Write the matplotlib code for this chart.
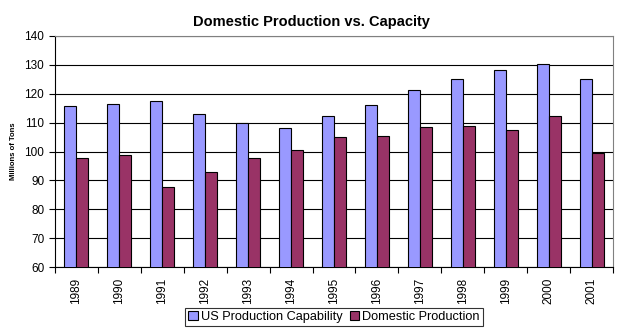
import numpy as np
import matplotlib
matplotlib.use("Agg")
import matplotlib.pyplot as plt

plt.rcParams['font.family'] = ['Liberation Sans', 'DejaVu Sans']

years = ['1989', '1990', '1991', '1992', '1993', '1994', '1995',
         '1996', '1997', '1998', '1999', '2000', '2001']
capability = [115.7, 116.4, 117.4, 112.9, 109.9, 108.1, 112.2,
              116.0, 121.2, 125.0, 128.1, 130.2, 125.0]
production = [97.7, 98.7, 87.6, 92.8, 97.7, 100.4, 105.1,
              105.3, 108.4, 108.8, 107.4, 112.2, 99.4]

fig = plt.figure(figsize=(6.23, 3.33), dpi=100)
ax = fig.add_axes([55/623, 1-267/333, (613-55)/623, (267-36)/333])

x = np.arange(len(years))
w = 0.28
ax.bar(x - w/2, capability, w, color='#9999FF', edgecolor='black', linewidth=0.8,
       label='US Production Capability', zorder=3)
ax.bar(x + w/2, production, w, color='#993366', edgecolor='black', linewidth=0.8,
       label='Domestic Production', zorder=3)

ax.set_xlim(-0.5, len(years) - 0.5)
ax.set_ylim(60, 140)
ax.set_yticks(range(60, 141, 10))
ax.tick_params(axis='y', labelsize=8.5, length=4.3, width=0.8, pad=3.5)
ax.set_xticks(x)
ax.set_xticklabels(years, rotation=90, fontsize=8.5)
ax.tick_params(axis='x', which='major', length=0, pad=8)
ax.set_xticks(np.arange(-0.5, len(years), 1), minor=True)
ax.tick_params(axis='x', which='minor', length=4, width=0.8)

ax.yaxis.grid(True, color='black', linewidth=0.8, zorder=0)
ax.set_axisbelow(True)
ax.spines['top'].set_color('#808080')
ax.spines['right'].set_color('#808080')
ax.spines['left'].set_linewidth(0.8)
ax.spines['bottom'].set_linewidth(0.8)

ax.set_ylabel('Millions of Tons', fontsize=5.5, fontweight='bold', labelpad=5)
fig.suptitle('Domestic Production vs. Capacity', fontsize=10.5, fontweight='bold',
             x=0.5, y=1-22/333, va='center')

leg = fig.legend(loc='center', bbox_to_anchor=(334/623, 1-317/333), ncol=2,
                 fontsize=9.2, frameon=True, fancybox=False, edgecolor='black',
                 handlelength=0.75, handleheight=0.75, handletextpad=0.2,
                 columnspacing=0.6, borderpad=0.25, borderaxespad=0)
leg.get_frame().set_linewidth(0.8)

fig.savefig('out.png', dpi=100)
